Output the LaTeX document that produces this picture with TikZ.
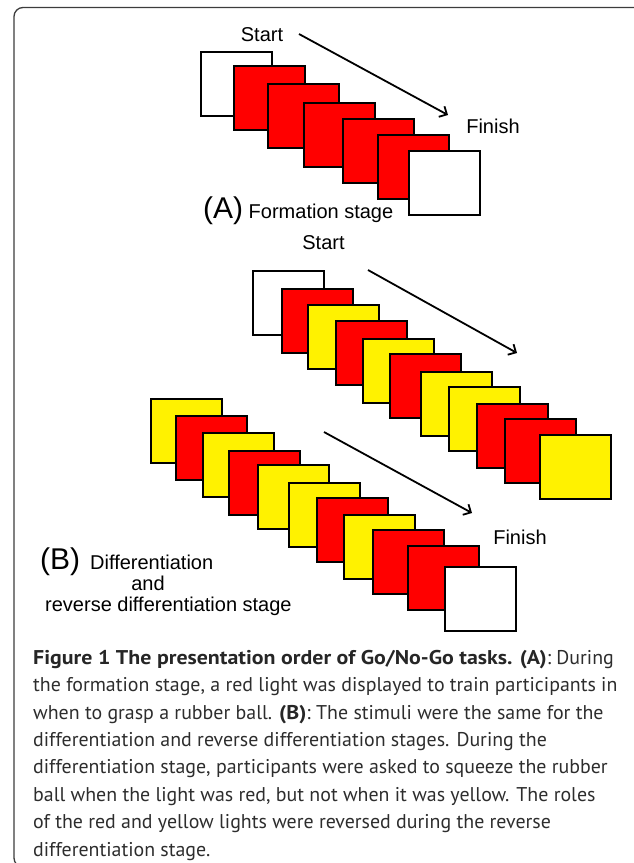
\documentclass[tikz,border=0pt]{standalone}
\usepackage{fontspec}
\setmainfont{Liberation Sans}
\newfontfamily\capfont{PT Sans}[BoldFeatures={FakeStretch=1.1}]
\usetikzlibrary{positioning, arrows.meta}
\definecolor{framegray}{RGB}{60,60,60}
\definecolor{captext}{RGB}{45,45,45}
\tikzset{
  lamp/.style={rectangle, draw=black, line width=2.4pt, minimum width=71pt, minimum height=63.5pt, inner sep=0pt},
  redlamp/.style={lamp, fill=red},
  yellowlamp/.style={lamp, fill=yellow},
  offlamp/.style={lamp, fill=white},
  seq/.style={->, >={Straight Barb[length=6pt, width=12pt]}, line width=1.8pt},
  lbl/.style={font=\fontsize{20}{22}\selectfont, inner sep=0pt},
}

\begin{document}
\begin{tikzpicture}[x=1pt, y=-1pt]
\useasboundingbox (0,0) rectangle (633,863);
%outer frame
\draw[framegray, line width=1.3pt, rounded corners=9pt] (14,7.5) rectangle (646,867);
%formation stage
\node[offlamp] (a1) at (236.5,84) {};
\node[redlamp] (a2) at (269.5,98) {};
\node[redlamp] (a3) at (303.5,116) {};
\node[redlamp] (a4) at (339.5,135) {};
\node[redlamp] (a5) at (378.5,151) {};
\node[redlamp] (a6) at (413.5,167) {};
\node[offlamp] (a7) at (444.5,183) {};
\node[lbl] (a_start) at (262,35) {Start};
\node[lbl] (a_finish) at (493,126) {Finish};
\coordinate (a_from) at (299,34);
\coordinate (a_to) at (448,115);
\draw[seq] (a_from) -- (a_to);
\node[lbl, anchor=base west] (a_label) at (203,218) {{\fontsize{30}{30}\selectfont(A)} Formation stage};
%differentiation, first run
\node[offlamp] (b1) at (288.5,303) {};
\node[redlamp] (b2) at (317.5,321) {};
\node[yellowlamp] (b3) at (343.5,337) {};
\node[redlamp] (b4) at (371.5,353) {};
\node[yellowlamp] (b5) at (398.5,371) {};
\node[redlamp] (b6) at (425.5,386) {};
\node[yellowlamp] (b7) at (456.5,404) {};
\node[yellowlamp] (b8) at (484.5,419) {};
\node[redlamp] (b9) at (512.5,436) {};
\node[redlamp] (b10) at (540.5,451) {};
\node[yellowlamp] (b11) at (575.5,467) {};
\node[lbl] (b_start) at (323.5,243) {Start};
\coordinate (b_from) at (368,270);
\coordinate (b_to) at (517,353);
\draw[seq] (b_from) -- (b_to);
%differentiation, second run
\node[yellowlamp] (c1) at (186.5,431) {};
\node[redlamp] (c2) at (211.5,448) {};
\node[yellowlamp] (c3) at (238.5,465) {};
\node[redlamp] (c4) at (264.5,483) {};
\node[yellowlamp] (c5) at (293.5,497) {};
\node[yellowlamp] (c6) at (324.5,515) {};
\node[redlamp] (c7) at (352.5,530) {};
\node[yellowlamp] (c8) at (379.5,547) {};
\node[redlamp] (c9) at (408.5,562) {};
\node[redlamp] (c10) at (443.5,578) {};
\node[offlamp] (c11) at (480.5,599) {};
\node[lbl] (c_finish) at (520,537) {Finish};
\coordinate (c_from) at (324,432);
\coordinate (c_to) at (472,513);
\draw[seq] (c_from) -- (c_to);
%stage B label
\node[lbl, anchor=base west] (b_tag) at (40,569) {\fontsize{30}{30}\selectfont(B)};
\node[lbl, anchor=base west] (b_line1) at (90,569) {Differentiation};
\node[lbl, anchor=base] (b_line2) at (148,590) {and};
\node[lbl, anchor=base west] (b_line3) at (45,611) {reverse differentiation stage};
%caption (base is the last line)
\node[anchor=base west, align=left, inner sep=0pt, text=captext, font=\capfont\fontsize{19.9}{27.4}\selectfont] (caption) at (33,856)
{\textbf{\color{black!85}Figure 1 The presentation order of Go/No-Go tasks. (A)}: During\\
the formation stage, a red light was displayed to train participants in\\
when to grasp a rubber ball. \textbf{\color{black!85}(B)}: The stimuli were the same for the\\
differentiation and reverse differentiation stages. During the\\
differentiation stage, participants were asked to squeeze the rubber\\
ball when the light was red, but not when it was yellow. The roles\\
of the red and yellow lights were reversed during the reverse\\
differentiation stage.};
\end{tikzpicture}
\end{document}
